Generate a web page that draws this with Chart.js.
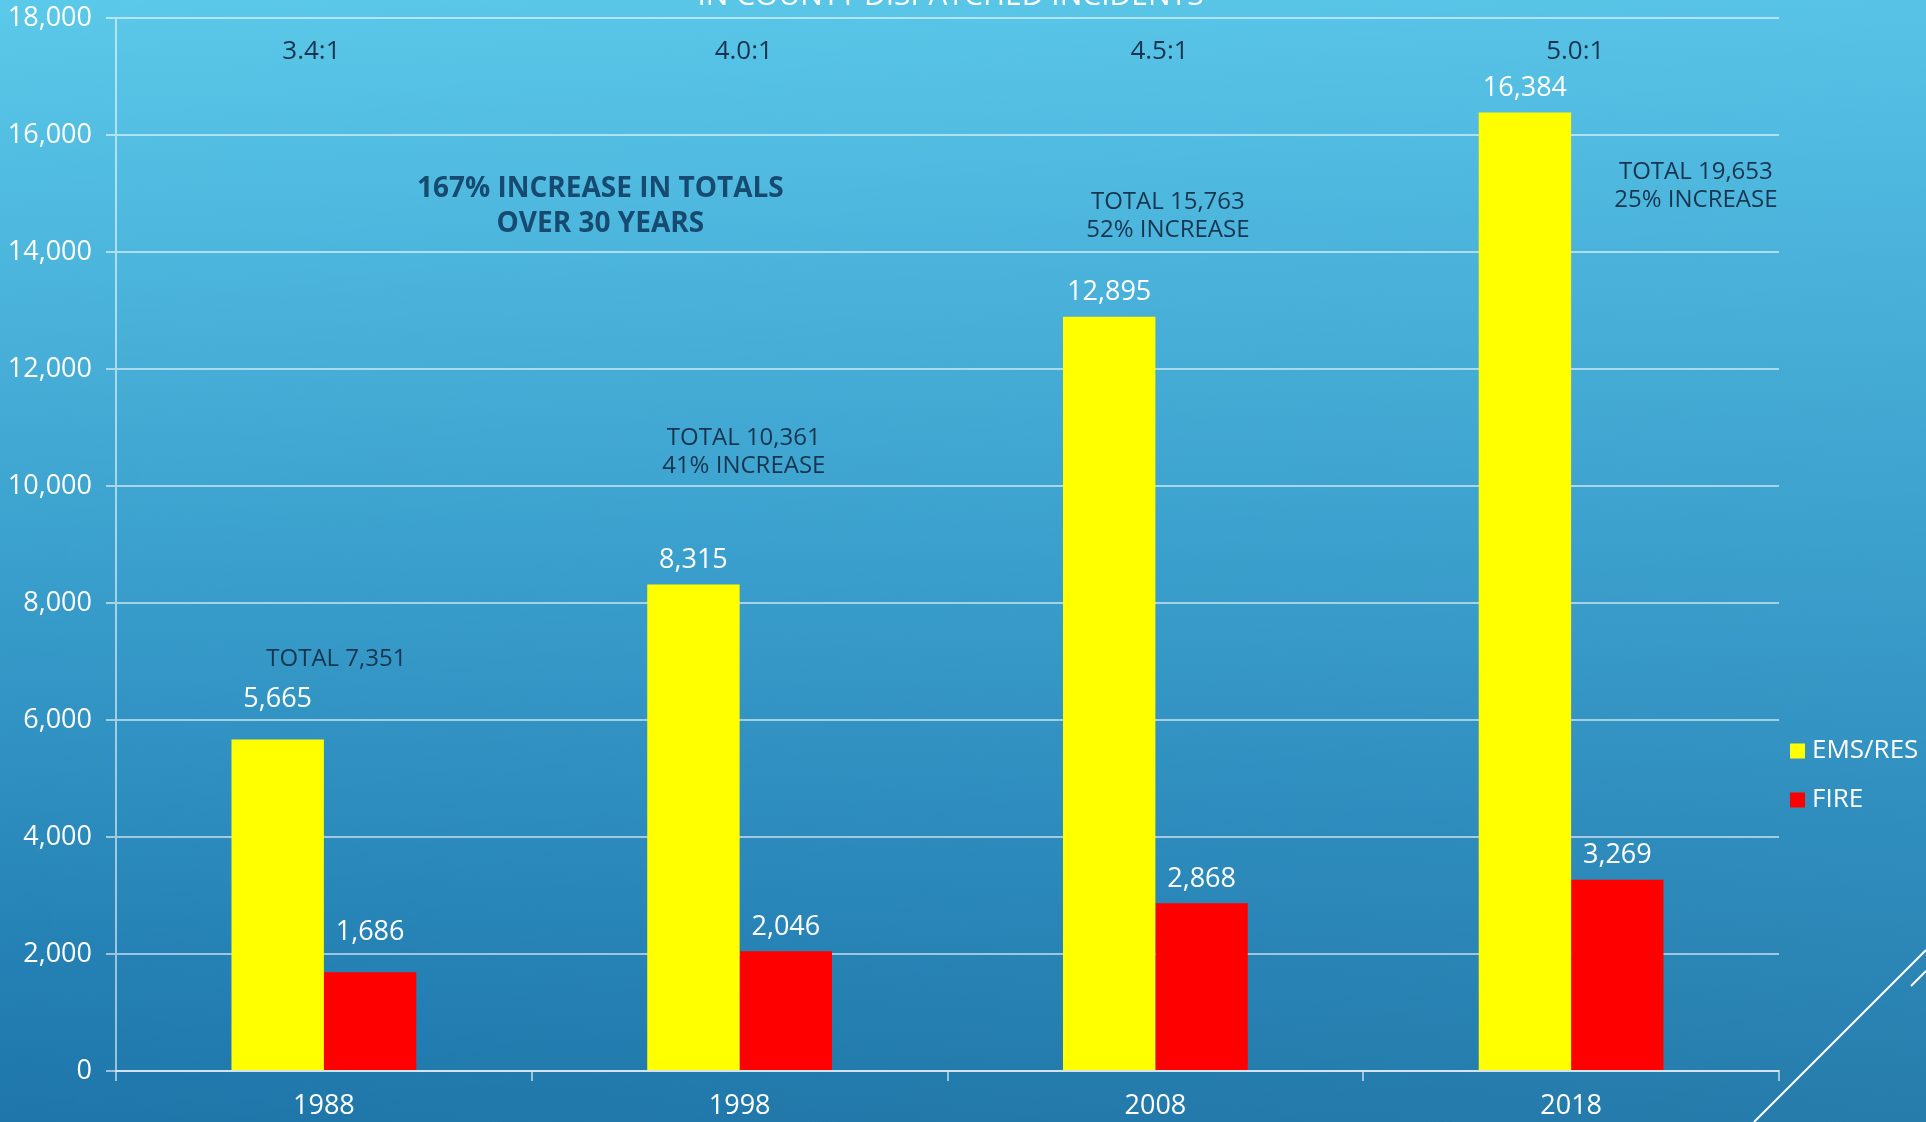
<!DOCTYPE html>
<html>
<head>
<meta charset="utf-8">
<script src="https://cdn.jsdelivr.net/npm/chart.js@4"></script>
<style>
  html, body { margin: 0; padding: 0; }
  body {
    width: 1926px; height: 1122px; overflow: hidden;
    background: linear-gradient(175deg, #5bc9e9 0%, #4bb4dc 22%, #3599c8 50%, #2480b4 75%, #186a9d 100%);
    position: relative;
  }
  #bg2 { position:absolute; left:0; top:0; width:1926px; height:1122px;
    background: linear-gradient(90deg, rgba(255,255,255,0) 0%, rgba(120,230,255,0.15) 100%); }
  canvas { position: absolute; left: 0; top: 0; }
</style>
</head>
<body>
<div id="bg2"></div>
<canvas id="c" width="1926" height="1122"></canvas>
<script>
// ---- data ----
const categories = ['1988', '1998', '2008', '2018'];
const emsValues = [5665, 8315, 12895, 16384];
const fireValues = [1686, 2046, 2868, 3269];
const seriesNames = ['EMS/RES', 'FIRE'];
const seriesColors = ['#ffff00', '#ff0000'];
const ratioLabels = ['3.4:1', '4.0:1', '4.5:1', '5.0:1'];
const yTicks = [0, 2000, 4000, 6000, 8000, 10000, 12000, 14000, 16000, 18000];
const chartTitle = 'IN COUNTY DISPATCHED INCIDENTS';
// annotations: lines, category position, value position
const totalNotes = [
  { lines: ['TOTAL 7,351'], at: 0.03, value: 7040 },
  { lines: ['TOTAL 10,361', '41% INCREASE'], at: 1.01, value: 10570 },
  { lines: ['TOTAL 15,763', '52% INCREASE'], at: 2.03, value: 14620 },
  { lines: ['TOTAL 19,653', '25% INCREASE'], at: 3.30, value: 15130 }
];
const headline = { lines: ['167% INCREASE IN TOTALS', 'OVER 30 YEARS'], at: 0.665, value: 14770 };
const ratioPos = { at: [-0.03, 1.01, 2.01, 3.01], value: 17420 };
const labelGap = [40, 24, 24, 24]; // gap between bar top and its value label, per category

const FONT = '"Open Sans", "DejaVu Sans", sans-serif';
const DARK = '#17354f';
const GRID = 'rgba(255,255,255,0.55)';

function fmt(v) { return v.toLocaleString('en-US'); }

const overlay = {
  id: 'overlay',
  afterDatasetsDraw(chart) {
    const ctx = chart.ctx;
    const x = chart.scales.x, y = chart.scales.y;
    const xAt = (p) => x.getPixelForValue(0) + p * (x.getPixelForValue(1) - x.getPixelForValue(0));
    ctx.save();
    // value labels
    ctx.font = '27px ' + FONT;
    ctx.fillStyle = '#ffffff';
    ctx.textAlign = 'center';
    ctx.textBaseline = 'middle';
    chart.data.datasets.forEach((ds, di) => {
      const meta = chart.getDatasetMeta(di);
      meta.data.forEach((bar, i) => {
        ctx.fillText(fmt(ds.data[i]), bar.x, bar.y - labelGap[i]);
      });
    });
    // ratios
    ctx.font = '26px ' + FONT;
    ctx.fillStyle = DARK;
    ratioLabels.forEach((t, i) => ctx.fillText(t, xAt(ratioPos.at[i]), y.getPixelForValue(ratioPos.value)));
    // totals
    ctx.font = '24px ' + FONT;
    totalNotes.forEach(n => {
      const cy = y.getPixelForValue(n.value);
      const lh = 28;
      const y0 = cy - (n.lines.length - 1) * lh / 2;
      n.lines.forEach((l, k) => ctx.fillText(l, xAt(n.at), y0 + k * lh));
    });
    // headline
    ctx.font = 'bold 28px ' + FONT;
    ctx.fillStyle = '#164a70';
    {
      const cy = y.getPixelForValue(headline.value);
      const lh = 35;
      const y0 = cy - (headline.lines.length - 1) * lh / 2;
      headline.lines.forEach((l, k) => ctx.fillText(l, xAt(headline.at), y0 + k * lh));
    }
    // title (cut off at top)
    ctx.font = '30px ' + FONT;
    ctx.fillStyle = '#ffffff';
    ctx.textBaseline = 'alphabetic';
    ctx.fillText(chartTitle, (chart.chartArea.left + chart.chartArea.right) / 2 + 3, 5);
    // legend
    ctx.textAlign = 'left';
    ctx.textBaseline = 'middle';
    ctx.font = '26px ' + FONT;
    const lx = chart.chartArea.right + 11;
    const ly = [751, 800];
    seriesNames.forEach((n, i) => {
      ctx.fillStyle = seriesColors[i];
      ctx.fillRect(lx, ly[i] - 7.5, 15, 15);
      ctx.fillStyle = '#ffffff';
      ctx.fillText(n, lx + 22, ly[i]);
    });
    // decorative lines
    ctx.strokeStyle = '#ffffff';
    ctx.lineWidth = 2;
    ctx.beginPath();
    ctx.moveTo(1754, 1122); ctx.lineTo(1926, 950);
    ctx.moveTo(1911, 986); ctx.lineTo(1926, 971);
    ctx.stroke();
    ctx.restore();
  }
};

new Chart(document.getElementById('c'), {
  type: 'bar',
  data: {
    labels: categories,
    datasets: [
      { label: seriesNames[0], data: emsValues, backgroundColor: seriesColors[0] },
      { label: seriesNames[1], data: fireValues, backgroundColor: seriesColors[1] }
    ]
  },
  options: {
    responsive: false,
    animation: false,
    devicePixelRatio: 1,
    layout: { padding: { left: 0, top: 18, right: 147, bottom: 0 } },
    datasets: { bar: { categoryPercentage: 2 / 4.5, barPercentage: 1 } },
    plugins: { legend: { display: false }, tooltip: { enabled: false } },
    scales: {
      x: {
        grid: { offset: true, drawOnChartArea: false, color: GRID, lineWidth: 2, tickLength: 10 },
        border: { color: GRID, width: 2 },
        ticks: { color: '#ffffff', font: { family: FONT, size: 27 }, padding: 9 },
        afterFit(s) { s.height = 51; s.paddingLeft = 0; s.paddingRight = 0; }
      },
      y: {
        min: 0, max: 18000,
        afterBuildTicks(s) { s.ticks = yTicks.map(v => ({ value: v })); },
        grid: { color: GRID, lineWidth: 2, tickLength: 10 },
        border: { color: GRID, width: 2 },
        ticks: { color: '#ffffff', font: { family: FONT, size: 27 }, padding: 14,
          callback: (v) => fmt(v) },
        afterFit(s) { s.width = 116; s.paddingTop = 0; s.paddingBottom = 0; }
      }
    }
  },
  plugins: [overlay]
});
</script>
</body>
</html>
